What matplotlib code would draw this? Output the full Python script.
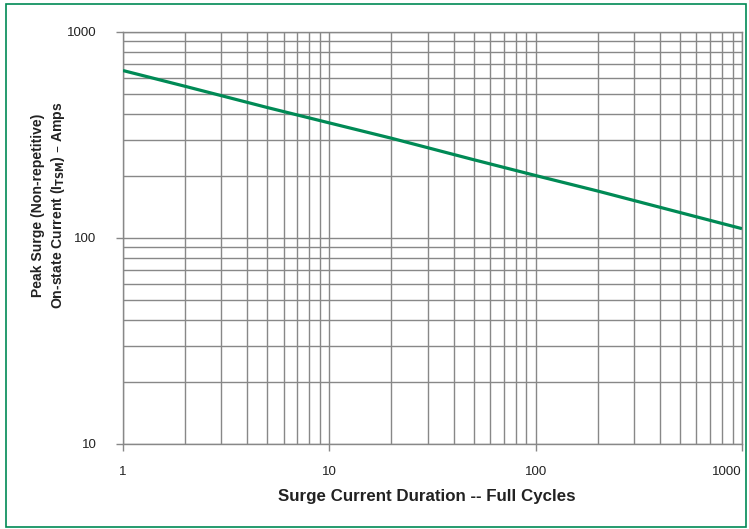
import matplotlib
matplotlib.use('Agg')
import matplotlib.pyplot as plt
import matplotlib.patches as patches
from matplotlib.ticker import LogLocator, FixedLocator, NullFormatter

# surge duration (full cycles) vs. peak surge current (A)
cycles = [1, 2, 5, 10, 20, 50, 100, 200, 500, 1000]
itsm = [650, 545, 430, 362, 305, 240, 201, 169, 133, 111]

x_ticks = [1, 10, 100, 1000]
y_ticks = [10, 100, 1000]

plt.rcParams['font.family'] = ['Liberation Sans', 'DejaVu Sans']

grid_col = '#888888'
green = '#008a55'
txt_col = '#222222'

fig = plt.figure(figsize=(7.49, 5.29), dpi=100)
ax = fig.add_axes([123/749, 1 - 444/529, (742-123)/749, (444-32)/529])

ax.plot(cycles, itsm, color=green, linewidth=2.3, solid_capstyle='butt', zorder=3)

ax.set_xscale('log')
ax.set_yscale('log')
ax.set_xlim(1, 1000)
ax.set_ylim(10, 1000)

ax.xaxis.set_major_locator(FixedLocator(x_ticks))
ax.yaxis.set_major_locator(FixedLocator(y_ticks))
ax.set_xticklabels([str(v) for v in x_ticks])
ax.set_yticklabels([str(v) for v in y_ticks])
ax.xaxis.set_minor_locator(LogLocator(base=10, subs=range(2, 10)))
ax.yaxis.set_minor_locator(LogLocator(base=10, subs=range(2, 10)))
ax.xaxis.set_minor_formatter(NullFormatter())
ax.yaxis.set_minor_formatter(NullFormatter())

ax.grid(True, which='both', color=grid_col, linewidth=1.0)
ax.tick_params(which='major', length=5, width=1, color=grid_col, labelsize=9.5, labelcolor=txt_col)
ax.tick_params(which='minor', length=0)
ax.tick_params(axis='x', pad=11)
ax.tick_params(axis='y', pad=14)
for s in ax.spines.values():
    s.set_color(grid_col)
    s.set_linewidth(1.0)
# last x label would run off the page
ax.get_xticklabels()[-1].set_ha('right')

fig.text(427/749, 1 - 497/529, 'Surge Current Duration -- Full Cycles', fontsize=12.2,
         fontweight='bold', color=txt_col, ha='center', va='center')
fig.text(49/749, 1 - 205/529,
         'Peak Surge (Non-repetitive)\nOn-state Current (I$_{\\mathbf{TSM}}$) – Amps',
         fontsize=10.1, fontweight='bold', color=txt_col, rotation=90,
         ha='center', va='center', multialignment='center', linespacing=1.3)

# green frame round the whole figure
fig.patches.append(patches.Rectangle((6/749, 2/529), 740/749, (529-6)/529,
                                     transform=fig.transFigure, fill=False,
                                     edgecolor=green, linewidth=1.2))

plt.savefig('out.png', dpi=100)
